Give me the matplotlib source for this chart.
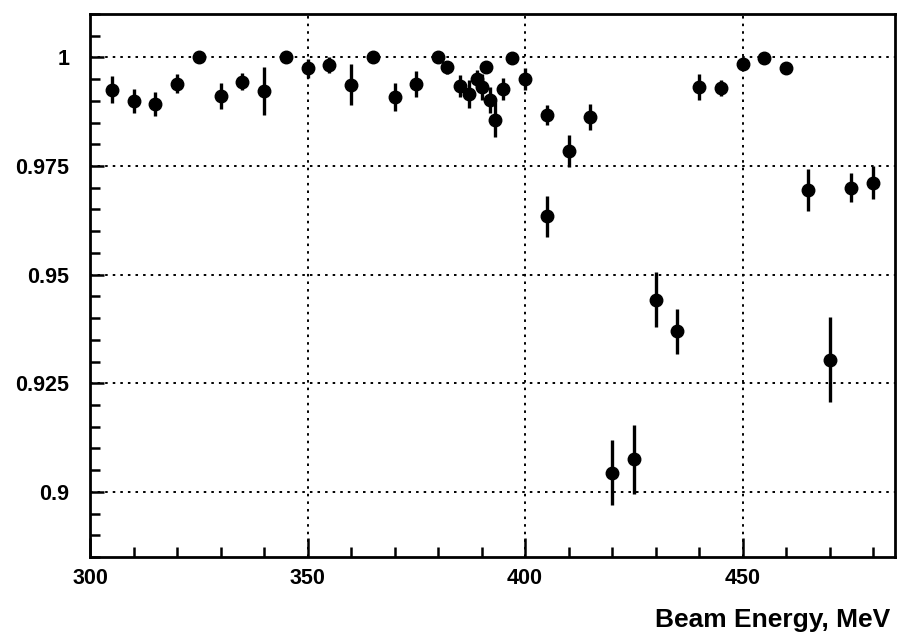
import matplotlib
matplotlib.use("Agg")
import matplotlib.pyplot as plt
from matplotlib.ticker import MultipleLocator

# Beam energy (MeV), measured ratio and its uncertainty
energy = [305, 310, 315, 320, 325, 330, 335, 340, 345, 350, 355, 360, 365, 370,
          375, 380, 382, 385, 387, 389, 390, 391, 392, 393, 395, 397, 400, 405,
          405, 410, 415, 420, 425, 430, 435, 440, 445, 450, 455, 460, 465, 470,
          475, 480]
ratio = [0.9926, 0.9900, 0.9893, 0.9939, 1.0000, 0.9912, 0.9944, 0.9923, 1.0001,
         0.9975, 0.9982, 0.9937, 1.0001, 0.9909, 0.9938, 1.0002, 0.9977, 0.9934,
         0.9916, 0.9951, 0.9932, 0.9978, 0.9903, 0.9857, 0.9928, 0.9998, 0.9950,
         0.9867, 0.9634, 0.9784, 0.9862, 0.9044, 0.9075, 0.9442, 0.9370, 0.9932,
         0.9929, 0.9984, 0.9999, 0.9975, 0.9695, 0.9304, 0.9700, 0.9711]
ratio_err = [0.0032, 0.0027, 0.0027, 0.0022, 0.0008, 0.0030, 0.0020, 0.0056, 0.0008,
             0.0022, 0.0018, 0.0047, 0.0008, 0.0032, 0.0030, 0.0008, 0.0015, 0.0025,
             0.0032, 0.0020, 0.0030, 0.0010, 0.0030, 0.0040, 0.0025, 0.0008, 0.0025,
             0.0023, 0.0047, 0.0037, 0.0030, 0.0075, 0.0079, 0.0063, 0.0052, 0.0030,
             0.0018, 0.0010, 0.0008, 0.0010, 0.0048, 0.0098, 0.0033, 0.0038]

x_ticks = [300, 350, 400, 450]
x_tick_labels = ["300", "350", "400", "450"]
y_ticks = [0.9, 0.925, 0.95, 0.975, 1.0]
y_tick_labels = ["0.9", "0.925", "0.95", "0.975", "1"]

font = ["Liberation Sans", "DejaVu Sans"]
plt.rcParams["font.family"] = font

fig = plt.figure(figsize=(9.0, 6.42), dpi=100)
ax = fig.add_axes([0.10, 0.1324, 0.8944, 0.8458])

ax.errorbar(energy, ratio, yerr=ratio_err, fmt="o", color="black",
            markersize=9, elinewidth=2.4, capsize=0, zorder=3)

ax.set_xlim(300, 485)
ax.set_ylim(0.885, 1.01)

ax.set_xticks(x_ticks)
ax.set_xticklabels(x_tick_labels)
ax.set_yticks(y_ticks)
ax.set_yticklabels(y_tick_labels)
ax.xaxis.set_minor_locator(MultipleLocator(10))
ax.yaxis.set_minor_locator(MultipleLocator(0.005))

ax.tick_params(axis="both", which="both", direction="in", top=False, right=False,
               width=1.8, color="black")
ax.tick_params(axis="x", which="major", length=14, pad=8)
ax.tick_params(axis="x", which="minor", length=7)
ax.tick_params(axis="y", which="major", length=10, pad=15)
ax.tick_params(axis="y", which="minor", length=7)

for lab in ax.get_xticklabels() + ax.get_yticklabels():
    lab.set_fontweight("bold")
    lab.set_fontsize(15.5)

for spine in ax.spines.values():
    spine.set_linewidth(2.0)
    spine.set_color("black")

ax.grid(True, which="major", color="black", linestyle=(0, (1.3, 2.6)),
        linewidth=1.4)
ax.set_axisbelow(True)

fig.text(890 / 900, 1 - 620 / 642, "Beam Energy, MeV", ha="right", va="center",
         fontsize=19, fontweight="bold")

fig.savefig("out.png", dpi=100, facecolor="white")
